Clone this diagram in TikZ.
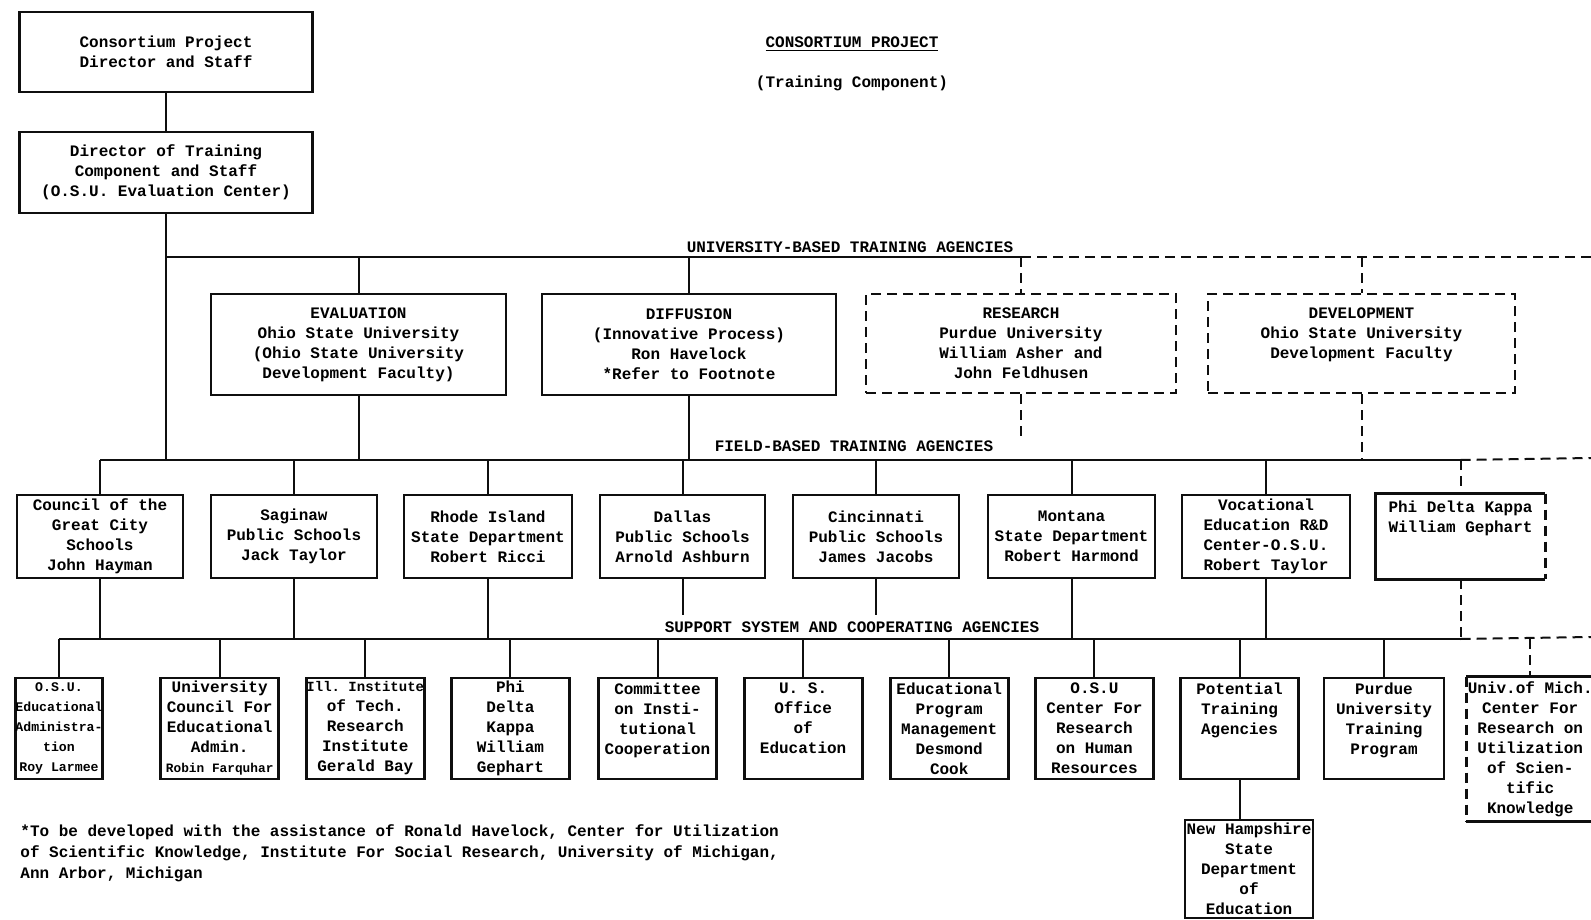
\documentclass[tikz,border=0pt]{standalone}
\usepackage{fontspec}
\setmonofont{Liberation Mono}
\usetikzlibrary{calc}
\definecolor{ink}{RGB}{15,15,15}
\tikzstyle{orgbox}=[draw=ink,line width=1.4pt,inner sep=0pt,align=center,font=\fontsize{8}{10}\selectfont\ttfamily\bfseries]
\tikzstyle{dashbox}=[orgbox,dash pattern=on 5pt off 3pt]
\tikzstyle{boxline}=[draw=ink,line width=1.4pt]
\tikzstyle{dashedge}=[draw=ink,line width=1.4pt,dash pattern=on 5pt off 3pt]
\tikzstyle{joinline}=[draw=ink,line width=1pt]
\tikzstyle{dashjoin}=[draw=ink,line width=1pt,dash pattern=on 5pt off 3pt]
\tikzstyle{rowlabel}=[inner sep=0pt,font=\fontsize{8}{10}\selectfont\ttfamily\bfseries]

\begin{document}
\begin{tikzpicture}[x=0.5pt,y=-0.5pt]
  \useasboundingbox (0,0) rectangle (1591,920);
  \coordinate (uni) at (0,257);
  \coordinate (field) at (0,460);
  \coordinate (sup) at (0,639);
  \coordinate (uniend) at (1591,257);
  \coordinate (fieldend) at (1591,458);
  \coordinate (supend) at (1591,637);

  \node[rowlabel] (title) at (852,44) {\underline{CONSORTIUM PROJECT}};
  \node[rowlabel] (subtitle) at (852,83) {(Training Component)};

  % top of the chart
  \node[orgbox,minimum width=146.5pt,minimum height=40pt] (cpd) at (166,52) {Consortium Project\\Director and Staff};
  \node[orgbox,minimum width=146.5pt,minimum height=40.5pt] (dtc) at (166,172.5) {Director of Training\\Component and Staff\\(O.S.U. Evaluation Center)};
  \draw[joinline] (cpd) -- (dtc);

  % university-based
  \node[orgbox,minimum width=147.5pt,minimum height=50.5pt] (eval) at (358.5,344.5) {EVALUATION\\Ohio State University\\(Ohio State University\\Development Faculty)};
  \node[orgbox,minimum width=147pt,minimum height=50.5pt] (diff) at (689,344.5) {DIFFUSION\\(Innovative Process)\\Ron Havelock\\*Refer to Footnote};
  \node[dashbox,minimum width=155pt,minimum height=49.5pt] (res) at (1021,343.5) {RESEARCH\\Purdue University\\William Asher and\\John Feldhusen};
  \node[dashbox,minimum width=153.5pt,minimum height=49.5pt] (dev) at (1361.5,343.5) {DEVELOPMENT\\Ohio State University\\Development Faculty\\~};

  \node[rowlabel,anchor=south] (unilabel) at (850,253) {UNIVERSITY-BASED TRAINING AGENCIES};
  \draw[joinline] (dtc.south) -- (dtc.south |- field);
  \draw[joinline] (dtc.south |- uni) -- (res.north |- uni);
  \draw[dashjoin] (res.north |- uni) -- (uniend);
  \draw[joinline] (eval.north |- uni) -- (eval.north);
  \draw[joinline] (diff.north |- uni) -- (diff.north);
  \draw[dashjoin] (res.north |- uni) -- (res.north);
  \draw[dashjoin] (dev.north |- uni) -- (dev.north);
  \draw[joinline] (eval.south) -- (eval.south |- field);
  \draw[joinline] (diff.south) -- (diff.south |- field);
  \draw[dashjoin] (res.south) -- ($(res.south |- field)+(0,-18)$);
  \draw[dashjoin] (dev.south) -- (dev.south |- field);

  % field-based
  \node[rowlabel,anchor=south] (fieldlabel) at (854,452) {FIELD-BASED TRAINING AGENCIES};
  \node[orgbox,minimum width=83pt,minimum height=41.5pt] (council) at (100,536.5) {Council of the\\Great City\\Schools\\John Hayman};
  \node[orgbox,minimum width=83pt,minimum height=41.5pt] (saginaw) at (294,536.5) {Saginaw\\Public Schools\\Jack Taylor};
  \node[orgbox,line width=1pt,minimum width=84pt,minimum height=41.5pt] (rhode) at (488,536.5) {Rhode Island\\State Department\\Robert Ricci};
  \node[orgbox,minimum width=82.5pt,minimum height=41.5pt] (dallas) at (682.5,536.5) {Dallas\\Public Schools\\Arnold Ashburn};
  \node[orgbox,minimum width=83pt,minimum height=41.5pt] (cinci) at (876,536.5) {Cincinnati\\Public Schools\\James Jacobs};
  \node[orgbox,minimum width=83.5pt,minimum height=41.5pt] (montana) at (1071.5,536.5) {Montana\\State Department\\Robert Harmond};
  \node[orgbox,minimum width=84pt,minimum height=41.5pt] (voc) at (1266,536.5) {Vocational\\Education R\&D\\Center-O.S.U.\\Robert Taylor};
  \node[orgbox,draw=none,minimum width=83.5pt,minimum height=41.5pt] (phif) at (1460.5,536.5) {Phi Delta Kappa\\William Gephart\\~\\~};
  \draw[boxline] (phif.north east) -- (phif.north west) -- (phif.south west) -- (phif.south east);
  \draw[dashedge] (phif.north east) -- (phif.south east);

  \draw[joinline] (council.north |- field) -- (phif.north |- field);
  \draw[dashjoin] (phif.north |- field) -- (fieldend);
  \draw[joinline] (council.north |- field) -- (council.north);
  \draw[joinline] (saginaw.north |- field) -- (saginaw.north);
  \draw[joinline] (rhode.north |- field) -- (rhode.north);
  \draw[joinline] (dallas.north |- field) -- (dallas.north);
  \draw[joinline] (cinci.north |- field) -- (cinci.north);
  \draw[joinline] (montana.north |- field) -- (montana.north);
  \draw[joinline] (voc.north |- field) -- (voc.north);
  \draw[dashjoin] (phif.north |- field) -- (phif.north);

  % support system
  \node[rowlabel,anchor=south] (suplabel) at (852,633) {SUPPORT SYSTEM AND COOPERATING AGENCIES};

  \draw[joinline] (council.south) -- (council.south |- sup);
  \draw[joinline] (saginaw.south) -- (saginaw.south |- sup);
  \draw[joinline,line width=0.7pt] (rhode.south) -- (rhode.south |- sup);
  \draw[joinline] (dallas.south) -- ($(dallas.south |- suplabel.north)+(0,-6)$);
  \draw[joinline] (cinci.south) -- ($(cinci.south |- suplabel.north)+(0,-6)$);
  \draw[joinline] (montana.south) -- (montana.south |- sup);
  \draw[joinline] (voc.south) -- (voc.south |- sup);
  \draw[dashjoin] (phif.south) -- (phif.south |- sup);

  \node[orgbox,font=\fontsize{6.6}{10}\selectfont\ttfamily\bfseries,minimum width=43.5pt,minimum height=50.5pt] (osu) at (59,728.5) {O.S.U.\\Educational\\Administra-\\tion\\Roy Larmee};
  \node[orgbox,minimum width=59pt,minimum height=50.5pt] (ucea) at (219.7,728.5) {University\\Council For\\Educational\\Admin.\\{\fontsize{6.4}{10}\selectfont Robin Farquhar}};
  \node[orgbox,minimum width=59pt,minimum height=50.5pt] (iit) at (365.3,728.5) {{\fontsize{7}{10}\selectfont Ill. Institute}\\of Tech.\\Research\\Institute\\Gerald Bay};
  \node[orgbox,minimum width=59pt,minimum height=50.5pt] (pdk) at (510.4,728.5) {Phi\\Delta\\Kappa\\William\\Gephart};
  \node[orgbox,minimum width=59pt,minimum height=50.5pt] (cic) at (657.5,728.5) {Committee\\on Insti-\\tutional\\Cooperation\\~};
  \node[orgbox,minimum width=59pt,minimum height=50.5pt] (usoe) at (803.1,728.5) {U. S.\\Office\\of\\Education\\~};
  \node[orgbox,minimum width=59pt,minimum height=50.5pt] (epm) at (949.2,728.5) {Educational\\Program\\Management\\Desmond\\Cook};
  \node[orgbox,minimum width=59pt,minimum height=50.5pt] (crhr) at (1094.4,728.5) {O.S.U\\Center For\\Research\\on Human\\Resources};
  \node[orgbox,minimum width=59pt,minimum height=50.5pt] (pta) at (1239.5,728.5) {Potential\\Training\\Agencies\\~\\~};
  \node[orgbox,minimum width=60pt,minimum height=50.5pt] (purdue) at (1384,728.5) {Purdue\\University\\Training\\Program\\~};
  \node[orgbox,draw=none,minimum width=59pt,minimum height=71pt] (mich) at (1530.2,749) {Univ.of Mich.\\Center For\\Research on\\Utilization\\of Scien-\\tific\\Knowledge};
  \draw[boxline] (mich.north west) -- (mich.north east);
  \draw[boxline] (mich.south west) -- (mich.south east);
  \draw[dashedge] (mich.north west) -- (mich.south west);
  \draw[dashedge] (mich.north east) -- (mich.south east);
  \node[orgbox,minimum width=64pt,minimum height=49pt] (nh) at (1249,869) {New Hampshire\\State\\Department\\of\\Education};

  \draw[joinline] (osu.north |- sup) -- (phif.south |- sup);
  \draw[dashjoin] (phif.south |- sup) -- (supend);
  \draw[joinline] (osu.north |- sup) -- (osu.north);
  \draw[joinline] (ucea.north |- sup) -- (ucea.north);
  \draw[joinline] (iit.north |- sup) -- (iit.north);
  \draw[joinline] (pdk.north |- sup) -- (pdk.north);
  \draw[joinline] (cic.north |- sup) -- (cic.north);
  \draw[joinline] (usoe.north |- sup) -- (usoe.north);
  \draw[joinline] (epm.north |- sup) -- (epm.north);
  \draw[joinline] (crhr.north |- sup) -- (crhr.north);
  \draw[joinline] (pta.north |- sup) -- (pta.north);
  \draw[joinline] (purdue.north |- sup) -- (purdue.north);
  \draw[dashjoin] (mich.north |- sup) -- (mich.north);
  \draw[joinline] (pta.south) -- (pta.south |- nh.north);

  % footnote
  \node[rowlabel,anchor=north west,align=left,font=\fontsize{8}{10.5}\selectfont\ttfamily\bfseries] (note) at (20,824) {*To be developed with the assistance of Ronald Havelock, Center for Utilization\\
 of Scientific Knowledge, Institute For Social Research, University of Michigan,\\
 Ann Arbor, Michigan};
\end{tikzpicture}
\end{document}
